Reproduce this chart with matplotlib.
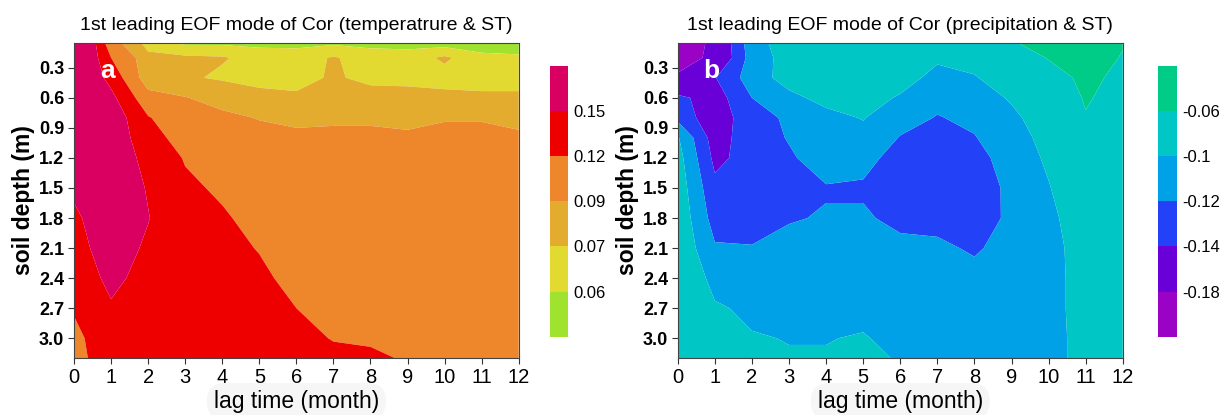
import numpy as np
import matplotlib
matplotlib.use("Agg")
import matplotlib.pyplot as plt

plt.rcParams["font.family"] = ["Liberation Sans", "DejaVu Sans"]
plt.rcParams["axes.unicode_minus"] = False

# ==========================================================
# Data: values per lag month, listed by soil depth
# ==========================================================

lag = np.arange(13)
depth = [0.05, 0.2, 0.4, 0.6, 0.8, 1.0, 1.2, 1.5, 1.8, 2.1, 2.4, 2.7, 3.0, 3.2]

# temperature & ST, one list per lag (top -> bottom)
temp_by_lag = [
    [0.220, 0.205, 0.190, 0.185, 0.180, 0.175, 0.165, 0.155, 0.145, 0.140, 0.132, 0.123, 0.112, 0.105],
    [0.100, 0.120, 0.140, 0.158, 0.170, 0.172, 0.172, 0.170, 0.168, 0.163, 0.157, 0.147, 0.140, 0.145],
    [0.063, 0.075, 0.075, 0.100, 0.122, 0.130, 0.140, 0.148, 0.151, 0.146, 0.140, 0.135, 0.130, 0.128],
    [0.058, 0.072, 0.072, 0.091, 0.100, 0.110, 0.118, 0.125, 0.130, 0.135, 0.135, 0.135, 0.135, 0.135],
    [0.058, 0.071, 0.068, 0.082, 0.095, 0.100, 0.105, 0.116, 0.123, 0.126, 0.130, 0.132, 0.134, 0.135],
    [0.057, 0.066, 0.066, 0.074, 0.089, 0.097, 0.100, 0.105, 0.112, 0.119, 0.124, 0.128, 0.132, 0.134],
    [0.057, 0.065, 0.066, 0.072, 0.086, 0.094, 0.098, 0.100, 0.104, 0.110, 0.114, 0.120, 0.126, 0.130],
    [0.058, 0.071, 0.0715, 0.078, 0.088, 0.093, 0.097, 0.100, 0.102, 0.104, 0.107, 0.112, 0.119, 0.125],
    [0.057, 0.065, 0.067, 0.075, 0.088, 0.093, 0.096, 0.098, 0.100, 0.102, 0.104, 0.108, 0.117, 0.124],
    [0.056, 0.065, 0.067, 0.074, 0.087, 0.092, 0.095, 0.097, 0.099, 0.100, 0.102, 0.105, 0.108, 0.118],
    [0.055, 0.0718, 0.066, 0.073, 0.089, 0.094, 0.096, 0.098, 0.099, 0.100, 0.101, 0.103, 0.105, 0.106],
    [0.054, 0.063, 0.066, 0.072, 0.089, 0.094, 0.097, 0.098, 0.099, 0.100, 0.101, 0.102, 0.103, 0.104],
    [0.053, 0.062, 0.066, 0.072, 0.087, 0.092, 0.096, 0.098, 0.099, 0.100, 0.100, 0.101, 0.102, 0.103],
]

# precipitation & ST, one list per lag (top -> bottom)
prec_by_lag = [
    [-0.225, -0.210, -0.170, -0.135, -0.125, -0.098, -0.092, -0.088, -0.085, -0.083, -0.081, -0.080, -0.078, -0.076],
    [-0.165, -0.165, -0.141, -0.150, -0.155, -0.150, -0.145, -0.135, -0.128, -0.118, -0.106, -0.098, -0.094, -0.092],
    [-0.108, -0.111, -0.110, -0.120, -0.125, -0.128, -0.132, -0.130, -0.128, -0.119, -0.112, -0.103, -0.099, -0.097],
    [-0.090, -0.092, -0.092, -0.105, -0.118, -0.119, -0.122, -0.128, -0.121, -0.116, -0.110, -0.105, -0.1005, -0.099],
    [-0.085, -0.085, -0.088, -0.094, -0.106, -0.110, -0.113, -0.121, -0.119, -0.113, -0.108, -0.104, -0.1005, -0.099],
    [-0.082, -0.083, -0.086, -0.092, -0.099, -0.106, -0.115, -0.122, -0.118, -0.112, -0.108, -0.104, -0.099, -0.0985],
    [-0.080, -0.083, -0.092, -0.102, -0.113, -0.121, -0.126, -0.128, -0.124, -0.116, -0.112, -0.108, -0.104, -0.1005],
    [-0.085, -0.097, -0.106, -0.115, -0.121, -0.128, -0.131, -0.133, -0.125, -0.117, -0.114, -0.111, -0.109, -0.108],
    [-0.088, -0.095, -0.101, -0.109, -0.116, -0.121, -0.127, -0.132, -0.130, -0.122, -0.115, -0.112, -0.110, -0.109],
    [-0.062, -0.080, -0.092, -0.098, -0.104, -0.108, -0.111, -0.115, -0.116, -0.114, -0.112, -0.110, -0.109, -0.108],
    [-0.050, -0.058, -0.075, -0.085, -0.090, -0.094, -0.097, -0.101, -0.104, -0.106, -0.106, -0.106, -0.106, -0.106],
    [-0.040, -0.045, -0.052, -0.057, -0.062, -0.070, -0.078, -0.085, -0.090, -0.092, -0.093, -0.093, -0.094, -0.094],
    [-0.058, -0.062, -0.068, -0.072, -0.075, -0.078, -0.080, -0.083, -0.085, -0.086, -0.087, -0.088, -0.088, -0.088],
]

temp_levels = [0.0, 0.06, 0.07, 0.09, 0.12, 0.15, 0.30]
temp_ticklabels = ["0.06", "0.07", "0.09", "0.12", "0.15"]
temp_colors = ["#9fe32f", "#e3da31", "#e3ac2f", "#ee862c", "#ee0000", "#da0062"]

prec_levels = [-0.30, -0.18, -0.14, -0.12, -0.10, -0.06, 0.0]
prec_ticklabels = ["-0.18", "-0.14", "-0.12", "-0.1", "-0.06"]
prec_colors = ["#9a02c6", "#6a00d8", "#2342f8", "#00a1e6", "#00c6c6", "#00cc88"]

titles = ["1st leading EOF mode of Cor (temperatrure & ST)",
          "1st leading EOF mode of Cor (precipitation & ST)"]
panel_tags = ["a", "b"]
yticks = [0.3, 0.6, 0.9, 1.2, 1.5, 1.8, 2.1, 2.4, 2.7, 3.0]

# ==========================================================
# Figure
# ==========================================================

fig = plt.figure(figsize=(12.26, 4.15), dpi=100)

panels = [
    (np.array(temp_by_lag).T, temp_levels, temp_colors, temp_ticklabels,
     [0.0604, 0.1366, 0.3627, 0.7605], [0.4486, 0.1887, 0.0147, 0.652]),
    (np.array(prec_by_lag).T, prec_levels, prec_colors, prec_ticklabels,
     [0.5528, 0.1366, 0.3630, 0.7605], [0.9445, 0.1887, 0.0155, 0.652]),
]

for i, (z, levels, colors, ticklabels, ax_box, cb_box) in enumerate(panels):
    ax = fig.add_axes(ax_box)
    cs = ax.contourf(lag, depth, z, levels=levels, colors=colors, antialiased=True)

    ax.set_xlim(0, 12)
    ax.set_ylim(3.2, 0.05)
    ax.set_xticks(lag)
    ax.set_yticks(yticks)
    ax.set_yticklabels([f"{v:.1f}" for v in yticks], fontweight="bold")
    ax.tick_params(axis="x", labelsize=14.5, length=4, width=0.8, pad=3, colors="#333333", labelcolor="black")
    ax.tick_params(axis="y", labelsize=13, length=4, width=0.8, pad=3, colors="#333333", labelcolor="black")
    for sp in ax.spines.values():
        sp.set_linewidth(0.8)
        sp.set_color("#444444")

    ax.set_title(titles[i], fontsize=14, pad=9)
    ax.set_ylabel("soil depth (m)", fontsize=16.5, fontweight="bold", labelpad=3)
    ax.set_xlabel("lag time (month)", fontsize=16.5, labelpad=2,
                  bbox=dict(boxstyle="round,pad=0.3,rounding_size=0.8",
                            fc="#f6f6f6", ec="none"))

    ax.text(0.9, 0.33, panel_tags[i], color="white", fontsize=19,
            fontweight="bold", ha="center", va="center")

    cax = fig.add_axes(cb_box)
    cb = fig.colorbar(cs, cax=cax, spacing="uniform", ticks=levels[1:-1])
    cb.set_ticklabels(ticklabels)
    cb.outline.set_visible(False)
    cax.tick_params(length=0, labelsize=12, pad=4)

fig.savefig("out.png", dpi=100)
